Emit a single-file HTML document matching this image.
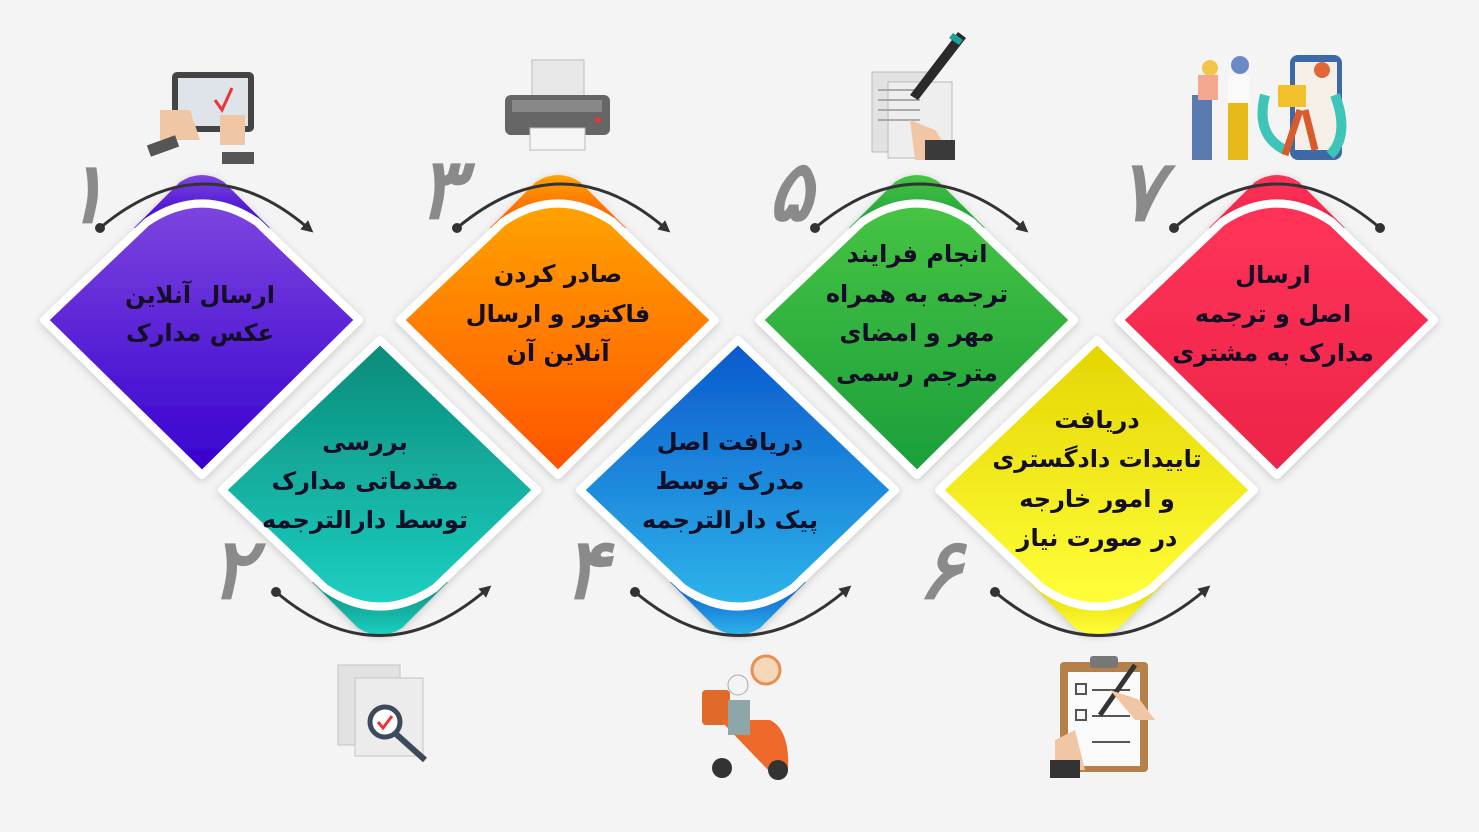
<!DOCTYPE html>
<html><head><meta charset="utf-8"><style>
html,body{margin:0;padding:0;background:#f4f4f4;}
svg{display:block}
.t{font-family:"DejaVu Sans",sans-serif;font-size:24px;font-weight:bold;fill:#140e26;text-anchor:middle;direction:rtl;}
.n{font-family:"DejaVu Sans",sans-serif;font-size:84px;font-weight:bold;font-style:italic;fill:#8a8a8a;text-anchor:middle;}
</style></head><body>
<svg width="1479" height="832" viewBox="0 0 1479 832" xmlns="http://www.w3.org/2000/svg">
<defs>
<linearGradient id="g1" x1="0" y1="0" x2="0" y2="1"><stop offset="0" stop-color="#7d45de"/><stop offset="1" stop-color="#3600cf"/></linearGradient>
<linearGradient id="g2" x1="0" y1="0" x2="0" y2="1"><stop offset="0" stop-color="#0b8a78"/><stop offset="1" stop-color="#1cd0c2"/></linearGradient>
<linearGradient id="g3" x1="0" y1="0" x2="0" y2="1"><stop offset="0" stop-color="#ffa300"/><stop offset="1" stop-color="#ff5200"/></linearGradient>
<linearGradient id="g4" x1="0" y1="0" x2="0" y2="1"><stop offset="0" stop-color="#0a58cc"/><stop offset="1" stop-color="#2eb4ea"/></linearGradient>
<linearGradient id="g5" x1="0" y1="0" x2="0" y2="1"><stop offset="0" stop-color="#46c443"/><stop offset="1" stop-color="#1a9e3a"/></linearGradient>
<linearGradient id="g6" x1="0" y1="0" x2="0" y2="1"><stop offset="0" stop-color="#e4d400"/><stop offset="1" stop-color="#ffff3a"/></linearGradient>
<linearGradient id="g7" x1="0" y1="0" x2="0" y2="1"><stop offset="0" stop-color="#ff3358"/><stop offset="1" stop-color="#ec2448"/></linearGradient>
<g id="cap"><path d="M-68,-92 L-22,-138 Q0,-152 22,-138 L68,-92 Z"/></g>
<g id="dia"><path d="M-158,0 L-55,-98 Q0,-135 55,-98 L157,0 L0,155 Z" stroke="#fff" stroke-width="8" stroke-linejoin="round"/></g>
<g id="bcap"><path d="M-68,92 L-22,138 Q0,152 22,138 L68,92 Z"/></g>
<g id="bdia"><path d="M-158,0 L0,-150 L157,0 L55,98 Q0,135 -55,98 Z" stroke="#fff" stroke-width="8" stroke-linejoin="round"/></g>
<filter id="sh" x="-20%" y="-20%" width="140%" height="140%"><feDropShadow dx="0" dy="2" stdDeviation="4" flood-opacity="0.18"/></filter>
<marker id="ah" markerWidth="14" markerHeight="14" refX="5" refY="6" orient="auto" markerUnits="userSpaceOnUse"><path d="M0,0 L12,6 L0,12 Z" fill="#333"/></marker>
</defs>

<g transform="translate(202,320)" fill="url(#g1)" filter="url(#sh)"><use href="#cap"/><use href="#dia"/></g>
<g transform="translate(558,320)" fill="url(#g3)" filter="url(#sh)"><use href="#cap"/><use href="#dia"/></g>
<g transform="translate(917,320)" fill="url(#g5)" filter="url(#sh)"><use href="#cap"/><use href="#dia"/></g>
<g transform="translate(1277,320)" fill="url(#g7)" filter="url(#sh)"><use href="#cap"/><use href="#dia"/></g>
<g transform="translate(380,490)" fill="url(#g2)" filter="url(#sh)"><use href="#bcap"/><use href="#bdia"/></g>
<g transform="translate(738,490)" fill="url(#g4)" filter="url(#sh)"><use href="#bcap"/><use href="#bdia"/></g>
<g transform="translate(1097,490)" fill="url(#g6)" filter="url(#sh)"><use href="#bcap"/><use href="#bdia"/></g>

<g fill="none" stroke="#333" stroke-width="3">
<path d="M100,228 Q205,140 308,228" marker-end="url(#ah)"/>
<path d="M457,228 Q562,140 665,228" marker-end="url(#ah)"/>
<path d="M815,228 Q920,140 1023,228" marker-end="url(#ah)"/>
<path d="M1174,228 Q1277,140 1380,228"/>
<path d="M276,592 Q380,680 486,590" marker-end="url(#ah)"/>
<path d="M635,592 Q740,680 846,590" marker-end="url(#ah)"/>
<path d="M995,592 Q1100,680 1205,590" marker-end="url(#ah)"/>
</g>
<g fill="#333">
<circle cx="100" cy="228" r="5"/><circle cx="457" cy="228" r="5"/><circle cx="815" cy="228" r="5"/><circle cx="1174" cy="228" r="5"/><circle cx="1380" cy="228" r="5"/>
<circle cx="276" cy="592" r="5"/><circle cx="635" cy="592" r="5"/><circle cx="995" cy="592" r="5"/>
</g>

<text class="n" x="85" y="222">۱</text>
<text class="n" x="440" y="218">۳</text>
<text class="n" x="790" y="220">۵</text>
<text class="n" x="1140" y="220">۷</text>
<text class="n" x="232" y="598">۲</text>
<text class="n" x="585" y="598">۴</text>
<text class="n" x="940" y="598">۶</text>

<text class="t"><tspan x="200" y="303">ارسال آنلاین</tspan><tspan x="200" y="341">عکس مدارک</tspan></text>
<text class="t"><tspan x="558" y="282">صادر کردن</tspan><tspan x="558" y="322">فاکتور و ارسال</tspan><tspan x="558" y="361">آنلاین آن</tspan></text>
<text class="t"><tspan x="917" y="262">انجام فرایند</tspan><tspan x="917" y="302">ترجمه به همراه</tspan><tspan x="917" y="341">مهر و امضای</tspan><tspan x="917" y="381">مترجم رسمی</tspan></text>
<text class="t"><tspan x="1273" y="283">ارسال</tspan><tspan x="1273" y="322">اصل و ترجمه</tspan><tspan x="1273" y="361">مدارک به مشتری</tspan></text>
<text class="t"><tspan x="365" y="450">بررسی</tspan><tspan x="365" y="489">مقدماتی مدارک</tspan><tspan x="365" y="528">توسط دارالترجمه</tspan></text>
<text class="t"><tspan x="730" y="450">دریافت اصل</tspan><tspan x="730" y="489">مدرک توسط</tspan><tspan x="730" y="528">پیک دارالترجمه</tspan></text>
<text class="t"><tspan x="1097" y="428">دریافت</tspan><tspan x="1097" y="467">تاییدات دادگستری</tspan><tspan x="1097" y="507">و امور خارجه</tspan><tspan x="1097" y="546">در صورت نیاز</tspan></text>

<g>
<rect x="172" y="72" width="82" height="60" rx="5" fill="#444"/><rect x="178" y="78" width="70" height="48" fill="#dfe4ea"/>
<path d="M160,110 h30 l10,30 h-40 z" fill="#f1c6a4"/><path d="M220,115 h25 v30 h-25 z" fill="#f1c6a4"/>
<rect x="148" y="140" width="30" height="12" fill="#555" transform="rotate(-20 163 146)"/><rect x="222" y="152" width="32" height="12" fill="#555"/>
<path d="M215,100 l7,10 l10,-22" stroke="#e33" stroke-width="3" fill="none"/>
</g>
<g>
<rect x="532" y="60" width="52" height="40" fill="#e8e8e8" stroke="#bbb"/>
<rect x="505" y="95" width="105" height="40" rx="6" fill="#666"/><rect x="512" y="100" width="90" height="12" fill="#888"/>
<rect x="530" y="128" width="55" height="22" fill="#f6f6f6" stroke="#bbb"/><circle cx="598" cy="120" r="3" fill="#e33"/>
</g>
<g>
<rect x="872" y="72" width="60" height="80" fill="#e2e2e2" stroke="#bbb"/><rect x="888" y="82" width="64" height="76" fill="#eee" stroke="#bbb"/>
<g stroke="#aaa" stroke-width="2"><line x1="878" y1="90" x2="920" y2="90"/><line x1="878" y1="100" x2="920" y2="100"/><line x1="878" y1="110" x2="920" y2="110"/><line x1="878" y1="120" x2="920" y2="120"/></g>
<path d="M958,32 l8,6 l-48,62 l-8,-5 z" fill="#2a2a2a"/><path d="M953,33 l10,7 l-4,5 l-10,-7z" fill="#1aa39a"/>
<path d="M910,120 l25,10 l20,30 h-40 z" fill="#f1c6a4"/><rect x="925" y="140" width="30" height="20" fill="#3a3a3a"/>
</g>
<g>
<rect x="1290" y="55" width="52" height="105" rx="8" fill="#3c6aa8"/><rect x="1295" y="62" width="42" height="88" fill="#f6efe8"/>
<path d="M1265,95 q-10,40 20,55 M1335,95 q15,40 -5,60" stroke="#3fc5b8" stroke-width="10" fill="none"/>
<rect x="1278" y="85" width="28" height="22" fill="#f2c02b"/><path d="M1300,110 l-15,45 M1305,110 l10,40" stroke="#d95a2a" stroke-width="7"/>
<circle cx="1322" cy="70" r="8" fill="#e0673a"/>
<rect x="1192" y="95" width="20" height="65" fill="#5a7ab0"/><circle cx="1210" cy="68" r="8" fill="#f2c64a"/><rect x="1198" y="75" width="20" height="25" fill="#f4a890"/>
<rect x="1228" y="100" width="20" height="60" fill="#e6b81a"/><circle cx="1240" cy="65" r="9" fill="#6d8ac8"/><rect x="1228" y="75" width="22" height="28" fill="#fafafa"/>
</g>
<g>
<rect x="338" y="665" width="62" height="80" fill="#e2e2e2" stroke="#c4c4c4"/><rect x="355" y="678" width="68" height="78" fill="#ececec" stroke="#c4c4c4"/>
<circle cx="385" cy="722" r="15" fill="#fff" stroke="#3d4a5c" stroke-width="5"/><line x1="396" y1="734" x2="425" y2="760" stroke="#3d4a5c" stroke-width="6"/>
<path d="M378,722 l5,6 l9,-12" stroke="#e33" stroke-width="3" fill="none"/>
</g>
<g>
<circle cx="766" cy="670" r="14" fill="#f6d6b8" stroke="#e88f52" stroke-width="3"/>
<rect x="702" y="690" width="28" height="35" rx="4" fill="#e06a2a"/><circle cx="738" cy="685" r="10" fill="#f4f4f4" stroke="#aaa"/>
<path d="M720,720 h50 q20,10 18,50 h-20 z" fill="#ee6a2a"/><circle cx="722" cy="768" r="10" fill="#333"/><circle cx="778" cy="770" r="10" fill="#333"/>
<rect x="728" y="700" width="22" height="35" fill="#8ea6a8"/>
</g>
<g>
<rect x="1060" y="662" width="88" height="110" rx="4" fill="#b5804a"/><rect x="1068" y="672" width="72" height="94" fill="#fafafa"/>
<rect x="1090" y="656" width="28" height="12" rx="3" fill="#777"/>
<g fill="none" stroke="#555" stroke-width="2"><rect x="1076" y="684" width="10" height="10"/><rect x="1076" y="710" width="10" height="10"/><line x1="1092" y1="690" x2="1130" y2="690"/><line x1="1092" y1="716" x2="1130" y2="716"/><line x1="1092" y1="742" x2="1130" y2="742"/></g>
<path d="M1135,665 l-35,50" stroke="#333" stroke-width="5"/><path d="M1110,690 l30,10 l15,20 h-20 z" fill="#f1c6a4"/>
<path d="M1055,740 l20,-10 l10,40 h-30 z" fill="#f1c6a4"/><rect x="1050" y="760" width="30" height="18" fill="#333"/>
</g>
</svg>
</body></html>
